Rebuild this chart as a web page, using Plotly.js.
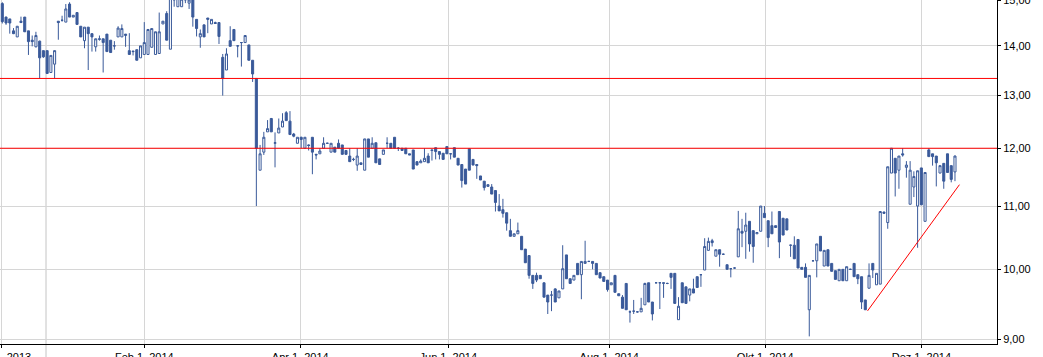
<!DOCTYPE html>
<html><head><meta charset="utf-8">
<script src="https://cdn.plot.ly/plotly-3.0.1.min.js"></script>
<style>html,body{margin:0;padding:0;background:#fff;overflow:hidden}#chart{width:1043px;height:357px}</style>
</head><body><div id="chart"></div><script>
// Daily OHLC prices (trading-day sequence, Dec 2013 - Dec 2014)
const openPrices = [
14.92,14.62,14.58,14.32,14.19,14.53,14.62,14.32,14.12,13.98,
14.10,13.90,13.90,13.45,13.62,14.53,14.55,14.51,14.91,14.62,
14.72,14.42,14.11,14.40,14.26,13.98,14.15,14.15,14.25,14.12,
14.00,14.19,14.19,14.22,13.90,13.89,13.92,13.75,13.82,13.82,
13.97,13.82,13.84,14.47,14.70,13.93,15.10,14.85,14.85,15.05,
14.93,15.05,14.57,14.19,14.45,14.60,14.47,14.50,14.50,13.76,
13.50,14.11,14.35,14.00,14.07,14.07,14.02,13.70,13.33,
11.61,11.93,12.30,12.55,12.09,12.28,12.39,12.66,12.50,12.26,
12.09,12.20,12.00,12.06,12.20,11.89,11.90,12.00,12.09,11.93,
12.02,12.09,12.06,11.96,11.86,11.80,11.70,11.71,11.61,12.17,
12.00,12.10,11.81,11.89,12.09,12.09,12.20,12.00,12.00,12.00,
11.90,11.97,11.76,11.74,11.76,11.86,11.97,12.01,11.94,11.91,
12.03,11.90,12.01,11.82,11.71,11.63,11.99,11.80,11.71,11.51,
11.42,11.33,11.32,11.26,11.00,10.94,10.89,10.60,10.51,10.55,
10.51,10.31,10.21,9.91,9.91,9.91,9.80,9.62,9.62,9.71,
9.58,9.71,10.22,9.86,9.84,10.09,9.92,10.09,10.12,10.12,
10.09,9.95,9.89,9.84,9.77,9.91,9.64,9.59,9.79,9.38,
9.39,9.38,9.38,9.48,9.80,9.52,9.80,9.80,9.79,9.79,
9.94,9.94,9.27,9.80,9.74,9.62,9.71,9.89,9.92,9.99,
10.29,10.44,10.20,10.30,10.23,10.07,10.01,10.02,10.19,10.59,
10.59,10.75,10.60,10.55,10.59,10.88,10.76,10.68,10.68,10.91,
10.80,10.79,10.37,10.37,10.46,10.03,10.03,9.41,10.13,10.13,
10.51,10.05,10.30,10.09,9.98,9.83,10.00,9.83,10.00,10.09,
9.92,9.89,9.55,9.72,10.09,9.77,9.78,10.90,10.73,11.56,
11.82,11.61,11.90,11.66,11.03,11.32,11.00,11.65,10.75,11.97,
11.90,11.86,11.56,11.73,11.90,11.69,11.58];
const highPrices = [
14.95,14.63,14.58,14.38,14.42,14.63,14.62,14.32,14.22,14.30,
14.11,13.90,13.90,13.80,13.90,14.53,14.65,14.91,14.95,14.66,
14.72,14.42,14.40,14.40,14.26,14.15,14.22,14.15,14.25,14.12,
14.10,14.42,14.46,14.25,14.27,13.90,13.92,14.00,14.51,14.35,
14.37,14.30,14.72,14.53,14.75,15.10,15.15,15.10,15.10,15.10,
15.05,15.10,14.57,14.35,14.45,14.60,14.57,14.52,14.50,13.83,
13.95,14.42,14.35,14.01,14.08,14.22,14.02,13.70,13.33,
12.06,12.30,12.52,12.56,12.29,12.55,12.65,12.69,12.69,12.28,
12.20,12.21,12.20,12.07,12.20,11.90,12.00,12.20,12.10,12.09,
12.02,12.16,12.06,11.96,12.00,11.83,12.00,11.74,12.17,12.17,
12.20,12.10,11.81,11.97,12.20,12.09,12.20,12.02,12.00,12.00,
11.90,11.97,11.76,11.80,12.00,11.91,11.98,12.01,11.94,11.91,
12.03,11.91,12.01,11.82,11.71,11.63,12.00,11.80,11.71,11.51,
11.42,11.36,11.37,11.26,11.20,11.12,10.89,10.79,10.55,10.73,
10.51,10.31,10.21,9.91,9.95,9.91,9.80,9.62,9.68,9.72,
9.68,10.37,10.22,9.86,9.91,10.09,10.12,10.44,10.13,10.12,
10.09,9.95,9.89,9.84,9.80,9.91,9.64,9.62,9.79,9.40,
9.55,9.39,9.58,9.80,9.80,9.52,9.81,9.81,9.80,9.80,
9.94,9.94,9.59,9.80,9.74,9.71,9.86,9.89,9.93,10.48,
10.49,10.47,10.30,10.30,10.24,10.07,10.02,10.03,10.92,10.79,
10.89,10.75,10.60,10.57,11.00,11.00,10.76,10.91,10.68,10.91,
10.80,10.79,10.38,10.51,10.46,10.03,10.09,9.91,10.14,10.39,
10.51,10.29,10.30,10.09,9.98,10.00,10.00,10.04,10.01,10.09,
9.92,9.89,9.55,10.09,10.09,9.94,10.91,10.91,11.67,12.00,
11.82,11.86,12.00,11.77,11.77,11.59,11.60,11.65,11.57,12.00,
11.90,11.86,11.69,11.73,11.90,11.69,11.87];
const lowPrices = [
14.48,14.45,14.26,14.25,14.19,14.49,14.30,13.81,13.99,13.97,
13.33,13.75,13.43,13.45,13.33,14.13,14.52,14.51,14.62,14.62,
14.46,14.19,13.95,13.50,13.88,13.88,14.11,13.45,13.88,13.86,
13.92,14.19,14.19,13.98,13.82,13.80,13.70,13.75,13.82,13.82,
13.97,13.82,13.84,14.47,14.12,13.93,14.85,14.85,14.85,14.93,
14.80,14.41,14.20,13.96,14.19,14.27,14.47,14.47,14.04,12.99,
13.50,13.99,14.11,13.76,13.57,14.07,13.70,13.26,11.00,
11.61,11.88,12.30,12.30,11.66,12.28,12.39,12.51,12.25,12.20,
12.09,12.00,12.00,11.96,11.54,11.80,11.90,12.00,12.08,11.93,
11.93,12.00,11.89,11.89,11.76,11.77,11.60,11.71,11.61,11.84,
12.00,11.74,11.71,11.89,12.00,12.00,12.00,11.95,11.96,11.90,
11.88,11.63,11.70,11.74,11.76,11.74,11.78,11.80,11.80,11.80,
11.90,11.80,11.84,11.70,11.31,11.37,11.61,11.70,11.46,11.44,
11.26,11.33,11.20,10.91,10.92,10.81,10.60,10.51,10.51,10.55,
10.30,10.10,9.86,9.71,9.81,9.86,9.59,9.35,9.39,9.52,
9.58,9.71,9.86,9.79,9.84,9.92,9.56,10.09,10.11,10.00,
9.92,9.87,9.82,9.67,9.77,9.66,9.61,9.43,9.41,9.23,
9.35,9.37,9.38,9.48,9.52,9.26,9.79,9.42,9.58,9.78,
9.71,9.50,9.27,9.51,9.50,9.53,9.65,9.73,9.74,9.99,
10.29,10.35,10.20,10.04,10.22,10.00,9.88,10.01,10.19,10.34,
10.16,10.27,10.10,10.55,10.59,10.81,10.34,10.55,10.65,10.17,
10.53,10.61,10.19,10.16,10.02,10.00,9.88,9.04,10.12,9.88,
10.28,10.05,10.05,9.97,9.85,9.83,9.83,9.83,9.99,9.89,
9.78,9.42,9.41,9.72,9.87,9.77,9.78,10.88,10.63,11.56,
11.16,11.29,11.85,11.48,11.03,11.15,10.33,11.02,10.75,11.85,
11.69,11.33,11.56,11.29,11.57,11.40,11.42];
const closePrices = [
14.52,14.49,14.49,14.26,14.42,14.50,14.30,14.09,14.09,14.22,
13.75,13.77,13.43,13.80,13.90,14.50,14.55,14.80,14.62,14.66,
14.46,14.19,14.40,14.26,14.19,14.15,14.14,14.07,13.88,13.86,
14.00,14.38,14.37,14.25,13.82,13.88,13.70,14.00,14.07,14.35,
14.37,14.30,14.30,14.53,14.12,15.05,15.00,15.05,15.02,15.00,
15.00,14.62,14.37,14.26,14.19,14.57,14.57,14.48,14.20,13.33,
13.83,13.99,14.11,14.00,14.07,14.22,13.70,13.42,12.00,
11.90,12.20,12.36,12.30,12.10,12.37,12.50,12.51,12.25,12.22,
12.20,12.16,12.20,12.05,11.93,11.88,11.95,12.09,12.09,12.09,
11.93,12.00,11.89,11.89,11.76,11.80,11.86,11.74,12.17,11.84,
12.09,11.74,11.71,11.97,12.09,12.00,12.00,12.00,11.96,11.90,
11.88,11.63,11.70,11.77,11.82,11.74,11.96,11.94,11.89,11.80,
11.90,11.90,11.84,11.70,11.43,11.37,11.61,11.70,11.69,11.44,
11.31,11.36,11.20,11.06,10.92,10.88,10.72,10.51,10.55,10.60,
10.30,10.10,9.91,9.79,9.84,9.86,9.59,9.52,9.62,9.52,
9.68,10.01,9.86,9.79,9.91,9.92,10.12,10.12,10.12,10.09,
9.92,9.87,9.82,9.70,9.80,9.66,9.61,9.43,9.41,9.38,
9.39,9.38,9.43,9.79,9.52,9.35,9.80,9.80,9.80,9.79,
9.88,9.50,9.46,9.51,9.50,9.71,9.65,9.73,9.92,10.35,
10.43,10.41,10.30,10.23,10.23,10.00,10.01,10.02,10.63,10.56,
10.69,10.39,10.35,10.57,11.00,10.81,10.49,10.55,10.65,10.42,
10.53,10.61,10.37,10.16,10.02,10.00,9.88,9.91,10.13,10.39,
10.28,10.29,10.05,9.97,9.85,10.00,9.83,10.04,10.00,9.89,
9.86,9.52,9.41,9.91,9.99,9.94,10.91,10.88,11.67,12.00,
11.56,11.86,11.88,11.70,11.61,11.50,11.60,11.02,11.57,11.85,
11.85,11.74,11.69,11.42,11.57,11.45,11.86];

// Axis labels (x positions given as trading-day index)
const monthTickIndex = [-0.21, 38.0, 79.76, 119.38, 162.47, 204.23, 246.0];
const monthTickLabels = ['Dez 1, 2013','Feb 1, 2014','Apr 1, 2014','Jun 1, 2014','Aug 1, 2014','Okt 1, 2014','Dez 1, 2014'];
const priceTicks = [9, 10, 11, 12, 13, 14, 15];
const yearSeparatorIndex = 11.7;

// Drawn levels
const resistanceLevels = [12.0, 13.33];
const trendIndex = [231.6, 256.2];
const trendPrice = [9.394, 11.36];

const n = Math.min(openPrices.length, highPrices.length, lowPrices.length, closePrices.length);
const dayIndex = openPrices.slice(0, n).map((_, i) => i);

const blue = '#3a5a9a';
const xRange = [-0.616, 266.25];

const trace = {
  type: 'candlestick',
  x: dayIndex,
  open: openPrices.slice(0, n), high: highPrices.slice(0, n),
  low: lowPrices.slice(0, n), close: closePrices.slice(0, n),
  increasing: {line: {color: blue, width: 1}, fillcolor: '#ffffff'},
  decreasing: {line: {color: blue, width: 1}, fillcolor: blue},
  whiskerwidth: 0,
  hoverinfo: 'skip'
};

const shapes = resistanceLevels.map(v => ({
  type: 'line', xref: 'paper', yref: 'y', x0: 0, x1: 1, y0: v, y1: v,
  line: {color: '#ff0000', width: 1}, layer: 'above'
}));
shapes.push({
  type: 'line', xref: 'x', yref: 'y',
  x0: trendIndex[0], x1: trendIndex[1], y0: trendPrice[0], y1: trendPrice[1],
  line: {color: '#ff0000', width: 1}, layer: 'above'
});
shapes.push({
  type: 'line', xref: 'paper', yref: 'paper',
  x0: (yearSeparatorIndex - xRange[0]) / (xRange[1] - xRange[0]),
  x1: (yearSeparatorIndex - xRange[0]) / (xRange[1] - xRange[0]),
  y0: -0.05, y1: 1, line: {color: '#c4c4c4', width: 1}, layer: 'below'
});

const tickFont = {family: 'Liberation Sans, Arial, sans-serif', size: 11, color: '#000'};

const layout = {
  width: 1043, height: 357,
  margin: {l: 0, r: 46, t: 0, b: 13, pad: 0},
  paper_bgcolor: '#ffffff', plot_bgcolor: 'rgba(0,0,0,0)',
  showlegend: false, hovermode: false, dragmode: false,
  separators: ',.',
  boxgap: 0.45, boxgroupgap: 0,
  xaxis: {
    type: 'linear', range: xRange, rangeslider: {visible: false},
    tickmode: 'array', tickvals: monthTickIndex, ticktext: monthTickLabels,
    showgrid: true, gridcolor: '#d6d6d6', gridwidth: 1, zeroline: false,
    showline: true, linecolor: '#000', linewidth: 1,
    ticks: 'outside', ticklen: 3, tickcolor: '#000', tickfont: tickFont,
    ticklabeloverflow: 'allow',
    automargin: false, fixedrange: true
  },
  yaxis: {
    type: 'log', side: 'right', range: [Math.log10(8.937), Math.log10(15.001)],
    tickmode: 'array', tickvals: priceTicks, tickformat: '.2f',
    showgrid: true, gridcolor: '#d6d6d6', gridwidth: 1, zeroline: false,
    showline: true, linecolor: '#000', linewidth: 1,
    ticks: 'outside', ticklen: 3, tickcolor: '#000', tickfont: tickFont,
    ticklabeloverflow: 'allow',
    automargin: false, fixedrange: true
  },
  shapes: shapes
};

Plotly.newPlot('chart', [trace], layout, {staticPlot: true, displayModeBar: false});
</script></body></html>
